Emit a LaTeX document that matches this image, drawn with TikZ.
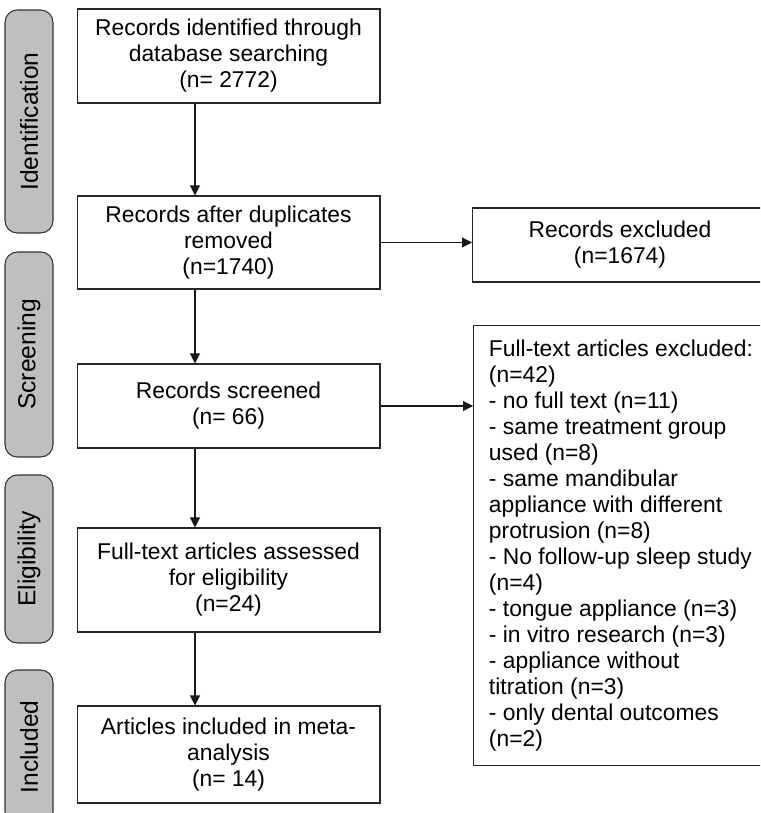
\documentclass[tikz,border=0pt]{standalone}
\usepackage{fontspec}
\setmainfont{Liberation Sans}
\usetikzlibrary{arrows.meta,positioning}

\begin{document}
\begin{tikzpicture}[x=0.02cm,y=-0.02cm,
  every node/.style={font=\fontsize{13}{14.8}\selectfont},
  box/.style={draw=black!85,line width=0.6pt,align=center,minimum width=6.06cm,inner sep=0pt},
  exbox/.style={box,minimum width=5.9cm},
  phase/.style={draw=black!80,fill=black!25,rounded corners=7pt,line width=0.6pt,minimum height=0.96cm,inner sep=0pt,rotate=90,font=\fontsize{14}{16}\selectfont},
  arr/.style={-{Triangle[length=0.2cm,width=0.2cm]},line width=0.6pt,black!90}]
\useasboundingbox (0,0) rectangle (760,813);
\clip (0,0) rectangle (760,813);

\node[phase,minimum width=4.46cm] (ident) at (29,121.5) {Identification};
\node[phase,minimum width=4.10cm] (screen) at (29,354.5) {Screening};
\node[phase,minimum width=3.36cm] (elig) at (29,559) {Eligibility};
\node[phase,minimum width=3.08cm] (incl) at (29,747) {Included};

\node[box,minimum height=1.88cm] (found) at (228.5,56) {Records identified through\\database searching\\(n= 2772)};
\node[box,minimum height=1.86cm] (dedup) at (228.5,242.5) {Records after duplicates\\removed\\(n=1740)};
\node[box,minimum height=1.68cm] (screened) at (228.5,406) {Records screened\\(n= 66)};
\node[box,minimum height=2.08cm] (assessed) at (228.5,580) {Full-text articles assessed\\for eligibility\\(n=24)};
\node[box,minimum height=1.94cm] (included) at (228.5,754.5) {Articles included in meta-\\analysis\\(n= 14)};

\node[exbox,minimum height=1.48cm] (recex) at (620,245) {Records excluded\\(n=1674)};
\node[exbox,minimum height=8.82cm,align=left] (artex) at (621,545.5) {Full-text articles excluded:\\(n=42)\\- no full text (n=11)\\- same treatment group\\used (n=8)\\- same mandibular\\appliance with different\\protrusion (n=8)\\- No follow-up sleep study\\(n=4)\\- tongue appliance (n=3)\\- in vitro research (n=3)\\- appliance without\\titration (n=3)\\- only dental outcomes\\(n=2)};

\coordinate (ax) at (195,0);
\draw[arr] (found.south -| ax) -- (dedup.north -| ax);
\draw[arr] (dedup.south -| ax) -- (screened.north -| ax);
\draw[arr] (screened.south -| ax) -- (assessed.north -| ax);
\draw[arr] (assessed.south -| ax) -- (included.north -| ax);
\draw[arr] (dedup.east) -- (recex.west |- dedup.east);
\draw[arr] (screened.east) -- (artex.west |- screened.east);
\end{tikzpicture}
\end{document}
